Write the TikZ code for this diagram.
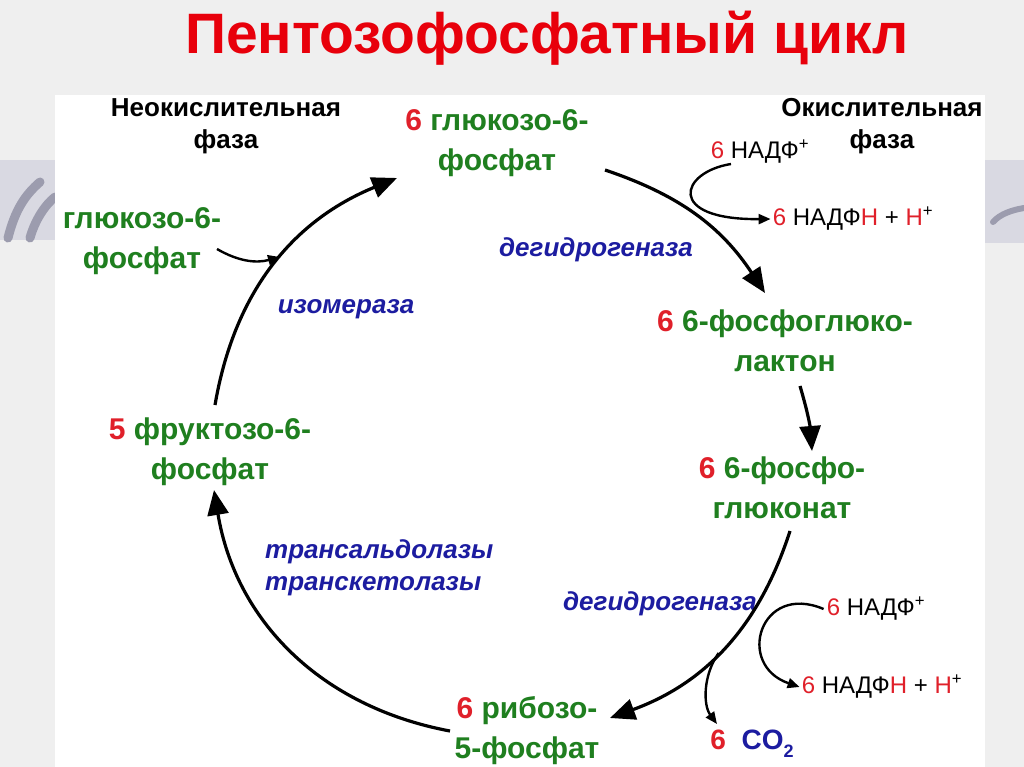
\documentclass[tikz,border=0pt]{standalone}
\usepackage{fontspec}
\setmainfont{Liberation Sans}
\usetikzlibrary{arrows.meta}
\definecolor{bg}{HTML}{EFEFEF}
\definecolor{band}{HTML}{D9D9E2}
\definecolor{bandline}{HTML}{9C9CAE}
\definecolor{ttl}{HTML}{E8000B}
\definecolor{num}{HTML}{E0202A}
\definecolor{grn}{HTML}{1F7F1F}
\definecolor{enz}{HTML}{1C1CA0}
\newcommand{\nm}[1]{\textcolor{num}{#1}}
\tikzset{
  metab/.style={font=\fontsize{30}{40}\selectfont\bfseries, text=grn, align=center, inner sep=0pt},
  phase/.style={font=\fontsize{26}{32}\selectfont\bfseries, align=center, inner sep=0pt},
  enzyme/.style={font=\fontsize{26}{32}\selectfont\bfseries\itshape, text=enz, inner sep=0pt},
  cofac/.style={font=\fontsize{24}{30}\selectfont, inner sep=0pt},
  mainarr/.style={line width=3.2pt, -{Triangle[length=25pt,width=21pt]}},
  sidearr/.style={line width=2.4pt, -{Triangle[length=12pt,width=10pt]}},
  deco/.style={line width=9pt, bandline, line cap=round}
}
\begin{document}
\begin{tikzpicture}[x=1pt,y=-1pt]
\useasboundingbox (0,0) rectangle (1024,767);
% background
\fill[bg] (0,0) rectangle (1024,767);
\fill[band] (0,160) rectangle (55,240);
\fill[band] (985,160) rectangle (1024,243);
\draw[deco] (8,238) .. controls (15,210) and (25,195) .. (40,182);
\draw[deco] (30,238) .. controls (35,220) and (45,205) .. (55,197);
\draw[deco, line width=6pt] (993,222) .. controls (1000,214) and (1012,210) .. (1024,208);
\fill[white] (55,95) rectangle (985,767);
% title
\node[font=\fontsize{57}{60}\selectfont\bfseries, text=ttl, inner sep=0pt] (title) at (547,38) {Пентозофосфатный цикл};
% phases
\node[phase] (neo) at (226,126) {Неокислительная\\фаза};
\node[phase] (oki) at (882,126) {Окислительная\\фаза};
% metabolites
\node[metab] (g1) at (497,143) {\nm{6} глюкозо-6-\\фосфат};
\node[metab] (gl) at (142,241) {глюкозо-6-\\фосфат};
\node[metab] (lac) at (785,341) {\nm{6} 6-фосфоглюко-\\лактон};
\node[metab] (glc) at (782,488) {\nm{6} 6-фосфо-\\глюконат};
\node[metab] (rib) at (527,731) {\nm{6} рибозо-\\5-фосфат};
\node[metab] (fru) at (210,452) {\nm{5} фруктозо-6-\\фосфат};
% cofactors
\node[cofac] (np1) at (760,152) {\nm{6} НАДФ\textsuperscript{+}};
\node[cofac] (nh1) at (853,219) {\nm{6} НАДФ\textcolor{num}{Н} + \textcolor{num}{Н}\textsuperscript{+}};
\node[cofac] (np2) at (876,609) {\nm{6} НАДФ\textsuperscript{+}};
\node[cofac] (nh2) at (882,687) {\nm{6} НАДФ\textcolor{num}{Н} + \textcolor{num}{Н}\textsuperscript{+}};
\node[font=\fontsize{28}{30}\selectfont\bfseries, inner sep=0pt] (co2) at (752,744) {\nm{6}\ \ \textcolor{enz}{CO\raisebox{-0.3em}{\fontsize{18}{18}\selectfont 2}}};
% enzymes
\node[enzyme] (dh1) at (596,250) {дегидрогеназа};
\node[enzyme] (izo) at (346,309) {изомераза};
\node[enzyme, align=left, anchor=west] (tr) at (265,568) {трансальдолазы\\транскетолазы};
\node[enzyme] (dh2) at (660,604) {дегидрогеназа};
% main cycle
\draw[mainarr] ([shift={(108,27)}]g1.center) to[bend left=19] ([shift={(-20,-48)}]lac.center);
\draw[mainarr] ([shift={(15,45)}]lac.center) to[bend left=6] ([shift={(30,-37)}]glc.center);
\draw[mainarr] ([shift={(8,43)}]glc.center) to[bend left=26] coordinate[pos=0.53] (cobr) ([shift={(83,-13)}]rib.center);
\draw[mainarr] ([shift={(-77,0)}]rib.center) to[bend left=35] ([shift={(4,38)}]fru.center);
\draw[mainarr] ([shift={(5,-47)}]fru.center) to[bend left=29] ([shift={(-100,35)}]g1.center);
% side reactions
\draw[sidearr] ([shift={(75,8)}]gl.center) to[out=-30,in=195] ([shift={(138,16)}]gl.center);
\draw[sidearr] ([shift={(-29,12)}]np1.center) .. controls (680,172) and (665,220) .. ([xshift=-2pt]nh1.west);
\draw[sidearr] ([xshift=-3pt]np2.west) .. controls (760,582) and (735,665) .. ([xshift=-2pt]nh2.west);
\draw[sidearr] (cobr) .. controls (703,675) and (703,705) .. ([shift={(-35,-20)}]co2.center);
\end{tikzpicture}
\end{document}
